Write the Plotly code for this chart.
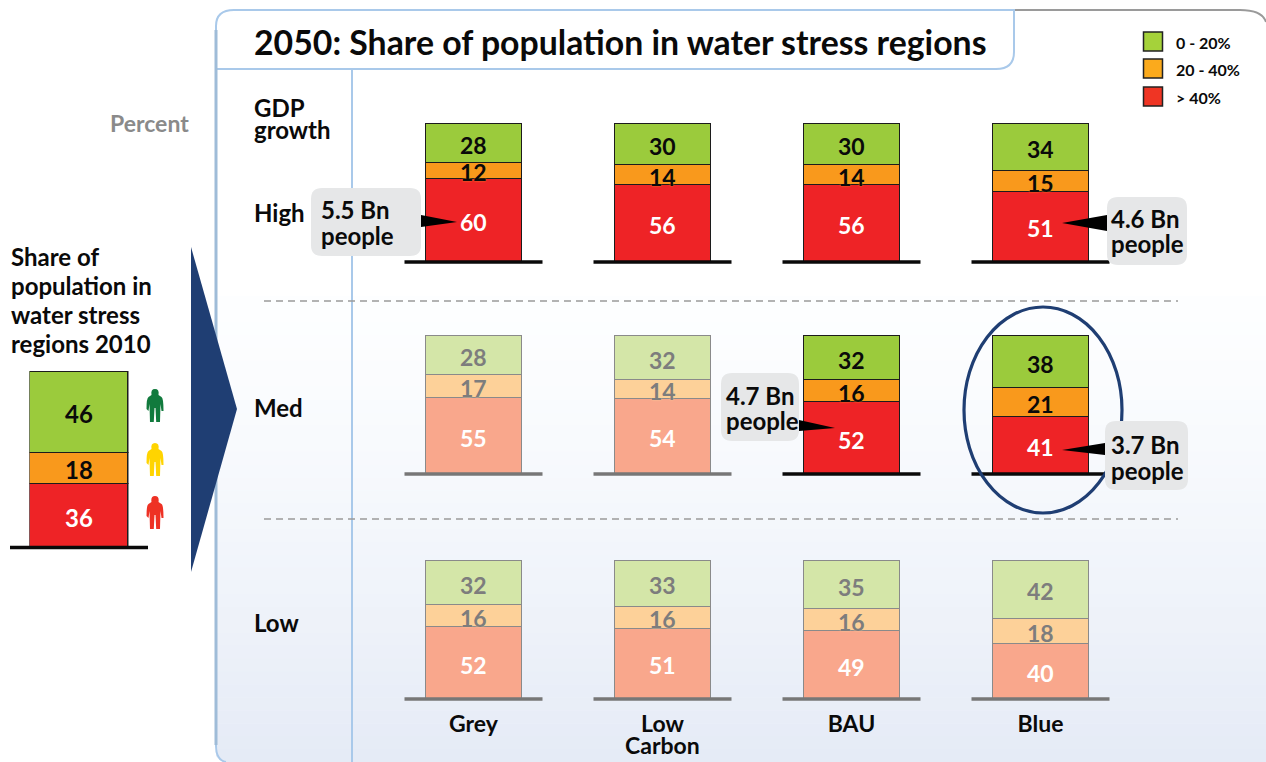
import plotly.graph_objects as go

W, H = 1266, 762
FONT = "Lato"

# ---------- data ----------
scenarios = ["Grey", "Low Carbon", "BAU", "Blue"]
scenario_ticks = ["Grey", "Low", "BAU", "Blue"]
high_red = [60, 56, 56, 51]
high_orange = [12, 14, 14, 15]
high_green = [28, 30, 30, 34]
med_red = [55, 54, 52, 41]
med_orange = [17, 14, 16, 21]
med_green = [28, 32, 32, 38]
low_red = [52, 51, 49, 40]
low_orange = [16, 16, 16, 18]
low_green = [32, 33, 35, 42]
now_red = [36]
now_orange = [18]
now_green = [46]
high_active = [True, True, True, True]
med_active = [False, False, True, True]
low_active = [False, False, False, False]
legend_labels = ["0 - 20%", "20 - 40%", "> 40%"]

# ---------- styles ----------
STRONG = {"green": "#9bcb3c", "orange": "#f9991c", "red": "#ee2326"}
FADED = {"green": "#d4e6a8", "orange": "#fdd199", "red": "#f9a78c"}
INK = "#0a0a0a"
NAVY = "#1f3e73"
BLUE_LINE = "#a9c9ea"
GREY_TXT = "#7d7d7d"


def fx(x):
    return x / W


def fy(y):
    return 1 - y / H


def P(x, y):
    return f"{fx(x):.5f},{fy(y):.5f}"


def path(cmds):
    """cmds: list of (letter, (x, y), ...) in pixel coordinates"""
    out = []
    for c in cmds:
        if c[0] == "Z":
            out.append("Z")
        else:
            out.append(c[0] + " ".join(P(*p) for p in c[1:]))
    return " ".join(out)


shapes = []
annotations = []


def pshape(cmds, fill=None, line=None, lw=0, layer="above"):
    shapes.append(dict(type="path", xref="paper", yref="paper", layer=layer,
                       path=path(cmds),
                       fillcolor=fill if fill else "rgba(0,0,0,0)",
                       line=dict(color=line if line else "rgba(0,0,0,0)", width=lw)))


def pline(x0, y0, x1, y1, color, lw, dash=None, layer="above"):
    shapes.append(dict(type="line", xref="paper", yref="paper", layer=layer,
                       x0=fx(x0), x1=fx(x1), y0=fy(y0), y1=fy(y1),
                       line=dict(color=color, width=lw, dash=dash)))


def rrect(x0, y0, x1, y1, r):
    return [("M", (x0 + r, y0)), ("L", (x1 - r, y0)), ("Q", (x1, y0), (x1, y0 + r)),
            ("L", (x1, y1 - r)), ("Q", (x1, y1), (x1 - r, y1)), ("L", (x0 + r, y1)),
            ("Q", (x0, y1), (x0, y1 - r)), ("L", (x0, y0 + r)), ("Q", (x0, y0), (x0 + r, y0)), ("Z",)]


def text(s, x, y, size=24, color=INK, anchor="left", bold=True):
    annotations.append(dict(text=f"<b>{s}</b>" if bold else s, x=fx(x), y=fy(y - 1),
                            xref="paper", yref="paper", xanchor=anchor, yanchor="middle",
                            showarrow=False, borderpad=0, borderwidth=0,
                            font=dict(family=FONT, size=size, color=color)))


# ---------- panel background ----------
top_rgb, bot_rgb = (253, 254, 255), (229, 235, 246)
y0_grad, steps = 296, 36
for i in range(steps):
    t = i / (steps - 1)
    c = tuple(round(a + (b - a) * t ** 1.3) for a, b in zip(top_rgb, bot_rgb))
    ya = y0_grad + (H - y0_grad) * i / steps
    yb = y0_grad + (H - y0_grad) * (i + 1) / steps + 0.5
    shapes.append(dict(type="rect", xref="paper", yref="paper", layer="below",
                       x0=fx(216), x1=fx(W), y0=fy(ya), y1=fy(yb),
                       fillcolor=f"rgb{c}", line=dict(width=0)))
pshape([("M", (214, 750)), ("Q", (216, 762), (228, 762)), ("L", (214, 762)), ("Z",)],
       fill="white", layer="below")
# frame
pline(352, 69, 352, H, BLUE_LINE, 2, layer="below")
pshape([("M", (1014, 10)), ("L", (1240, 10)), ("Q", (1262, 10), (1266, 22))],
       line="#9a9a9a", lw=2, layer="below")
pshape([("M", (226, 762)), ("Q", (216, 760), (216, 746)), ("L", (216, 26)),
        ("Q", (216, 10), (234, 10)), ("L", (1014, 10)), ("L", (1014, 52)),
        ("Q", (1014, 69), (996, 69)), ("L", (216, 69))],
       line=BLUE_LINE, lw=2, layer="below")
pline(216, 30, 216, 745, "#9fbcd8", 3, layer="below")
# separators
pline(264, 301, 1178, 301, "#9a9a9a", 1.5, dash="7px,5px", layer="below")
pline(264, 519, 1178, 519, "#9a9a9a", 1.5, dash="7px,5px", layer="below")

# ---------- axes ----------
COL_STEP = 189
BAR_W = 96
ax_left = 473.5 - COL_STEP / 2
ax_right = ax_left + 4 * COL_STEP
LOW_TOP, LOW_BOT = 561, 699
MED_TOP, MED_BOT = 336, 474
HIGH_TOP, HIGH_BOT = 124, 262
NOW_TOP, NOW_BOT = 372, 547
ROW_PX = 138
NOW_PX = 175
PAD = 2  # pixels of head-room so the top edge of each bar is not clipped
ROW_MAX = 100 + 100 * PAD / ROW_PX
NOW_MAX = 100 + 100 * PAD / NOW_PX

layout_axes = dict(
    xaxis=dict(domain=[fx(ax_left), fx(ax_right)], type="category", anchor="y",
               categoryorder="array", categoryarray=scenarios, range=[-0.5, 3.5],
               tickmode="array", tickvals=scenarios, ticktext=scenario_ticks,
               showgrid=False, zeroline=False, showline=False,
               ticks="outside", ticklen=1, tickcolor="rgba(0,0,0,0)",
               ticklabelstandoff=3,
               tickfont=dict(family=FONT, size=23, color=INK, weight="bold")),
    yaxis=dict(domain=[fy(LOW_BOT), fy(LOW_TOP - PAD)], range=[0, ROW_MAX], visible=False),
    yaxis2=dict(domain=[fy(MED_BOT), fy(MED_TOP - PAD)], range=[0, ROW_MAX], visible=False),
    yaxis3=dict(domain=[fy(HIGH_BOT), fy(HIGH_TOP - PAD)], range=[0, ROW_MAX], visible=False),
    xaxis2=dict(domain=[fx(29.5), fx(128.5)], type="category", anchor="y4", visible=False,
                range=[-0.505, 0.505]),
    yaxis4=dict(domain=[fy(NOW_BOT), fy(NOW_TOP - PAD)], range=[0, NOW_MAX], visible=False, anchor="x2"),
)

fig = go.Figure()


def value_label(xref, yref, x, mid, value, color, size, halo="none"):
    annotations.append(dict(text=f"<b>{value}</b>", x=x, y=mid, xref=xref, yref=yref,
                            yshift=-1.5, showarrow=False, borderpad=0,
                            xanchor="center", yanchor="middle",
                            font=dict(family=FONT, size=size, color=color, shadow=halo)))


def add_row(yaxis, red, orange, green, active):
    base = [0, 0, 0, 0]
    for key, vals in (("red", red), ("orange", orange), ("green", green)):
        fills = [STRONG[key] if a else FADED[key] for a in active]
        edges = ["#1c1c1c" if a else "#8a8a8a" for a in active]
        fig.add_trace(go.Bar(
            x=scenarios, y=vals, xaxis="x", yaxis=yaxis, width=BAR_W / COL_STEP,
            marker=dict(color=fills, line=dict(color=edges, width=1.4)),
            showlegend=False, hoverinfo="x+y"))
        for i, v in enumerate(vals):
            if key == "red":
                col = "white"
            else:
                col = INK if active[i] else GREY_TXT
            halo = f"0 0 2px {fills[i]}" if key == "orange" else "none"
            value_label("x", yaxis, scenarios[i], base[i] + v / 2, v, col, 23, halo)
            base[i] += v


add_row("y", low_red, low_orange, low_green, low_active)
add_row("y2", med_red, med_orange, med_green, med_active)
add_row("y3", high_red, high_orange, high_green, high_active)

now_base = 0
for key, vals, col in (("red", now_red, "white"), ("orange", now_orange, INK), ("green", now_green, INK)):
    fig.add_trace(go.Bar(
        x=["2010"], y=vals, xaxis="x2", yaxis="y4", width=1,
        marker=dict(color=STRONG[key], line=dict(color="#1c1c1c", width=1.4)),
        showlegend=False, hoverinfo="x+y"))
    value_label("x2", "y4", 0, now_base + vals[0] / 2, vals[0], col, 24)
    now_base += vals[0]

# ---------- baselines ----------
for bottom, active in ((HIGH_BOT, high_active), (MED_BOT, med_active), (LOW_BOT, low_active)):
    for i, a in enumerate(active):
        cx = 473.5 + i * COL_STEP
        pline(cx - 69, bottom, cx + 69, bottom, INK if a else "#777777", 3.5)
pline(10, 547.5, 148, 547.5, INK, 3.5)

# ---------- ellipse ----------
shapes.append(dict(type="circle", xref="paper", yref="paper", layer="above",
                   x0=fx(964), x1=fx(1122), y0=fy(513), y1=fy(307),
                   line=dict(color=NAVY, width=3.2)))

# ---------- callouts ----------
BUB = "#e6e7e8"
for (x0, y0, x1, y1), (bx, by0, by1, tx, ty), (lx, l1, l2, t1) in (
    ((311, 188, 421, 256), (421, 215, 227, 457, 222), (321, 211, 236, "5.5 Bn")),
    ((1107, 197, 1187, 265), (1107, 215, 231, 1062, 223), (1111, 219, 244, "4.6 Bn")),
    ((721, 373, 799, 441), (799, 420, 431, 835, 428), (726, 396, 421, "4.7 Bn")),
    ((1105, 421, 1188, 490), (1105, 443, 455, 1062, 450), (1111, 445, 471, "3.7 Bn")),
):
    pshape(rrect(x0, y0, x1, y1, 11), fill=BUB)
    pshape([("M", (bx, by0)), ("L", (tx, ty)), ("L", (bx, by1)), ("Z",)], fill="#000000")
    text(t1, lx, l1)
    text("people", lx, l2)

# ---------- big arrow ----------
pshape([("M", (191, 247)), ("L", (237, 409)), ("L", (191, 572)), ("Z",)], fill=NAVY)


# ---------- people ----------
def person(cx, top, color):
    cmds = [
        ("M", (cx, top)), ("Q", (cx + 4.5, top), (cx + 3.5, top + 6)),
        ("L", (cx + 6.5, top + 8)), ("Q", (cx + 8.5, top + 9), (cx + 8.5, top + 22)),
        ("L", (cx + 6.5, top + 22)), ("L", (cx + 5.5, top + 15)),
        ("L", (cx + 5, top + 33)), ("L", (cx + 1.2, top + 33)), ("L", (cx + 0.5, top + 19)),
        ("L", (cx - 0.5, top + 19)),
        ("L", (cx - 1.2, top + 33)), ("L", (cx - 5, top + 33)), ("L", (cx - 5.5, top + 15)),
        ("L", (cx - 6.5, top + 22)), ("L", (cx - 8.5, top + 20)),
        ("Q", (cx - 8.5, top + 9), (cx - 6.5, top + 8)),
        ("L", (cx - 3.5, top + 6)), ("Q", (cx - 4.5, top), (cx, top)), ("Z",),
    ]
    pshape(cmds, fill=color)


person(155, 389, "#117a3d")
person(155, 443, "#ffd400")
person(155, 496, "#ee3124")

# ---------- legend ----------
LEG_COL = ["#a5d23a", "#fbaa1c", "#ef3524"]
for lab, col, y0 in zip(legend_labels, LEG_COL, (32, 59, 87)):
    shapes.append(dict(type="rect", xref="paper", yref="paper", layer="above",
                       x0=fx(1143.5), x1=fx(1162.5), y0=fy(y0 + 19), y1=fy(y0),
                       fillcolor=col, line=dict(color="#222222", width=1.5)))
    text(lab, 1176, y0 + 11, size=16)

# ---------- text ----------
text("2050: Share of population in water stress regions", 254, 43, size=33.8)
text("Percent", 189, 124, size=23, color="#8a8a8a", anchor="right")
text("GDP", 254, 109)
text("growth", 254, 130)
text("High", 254, 214)
text("Med", 254, 408)
text("Low", 254, 623)
text("Carbon", 662.5, 746, size=23, anchor="center")
for s, y in (("Share of", 258), ("population in", 287), ("water stress", 316), ("regions 2010", 345)):
    text(s, 11, y)

fig.update_layout(
    width=W, height=H, margin=dict(l=0, r=0, t=0, b=0, autoexpand=False), autosize=False,
    paper_bgcolor="white", plot_bgcolor="rgba(0,0,0,0)",
    barmode="stack", bargap=0, showlegend=False,
    font=dict(family=FONT),
    shapes=shapes, annotations=annotations,
    **layout_axes,
)
fig.write_html("out.html", config={"displayModeBar": False},
               post_script="document.body.style.margin='0';")
